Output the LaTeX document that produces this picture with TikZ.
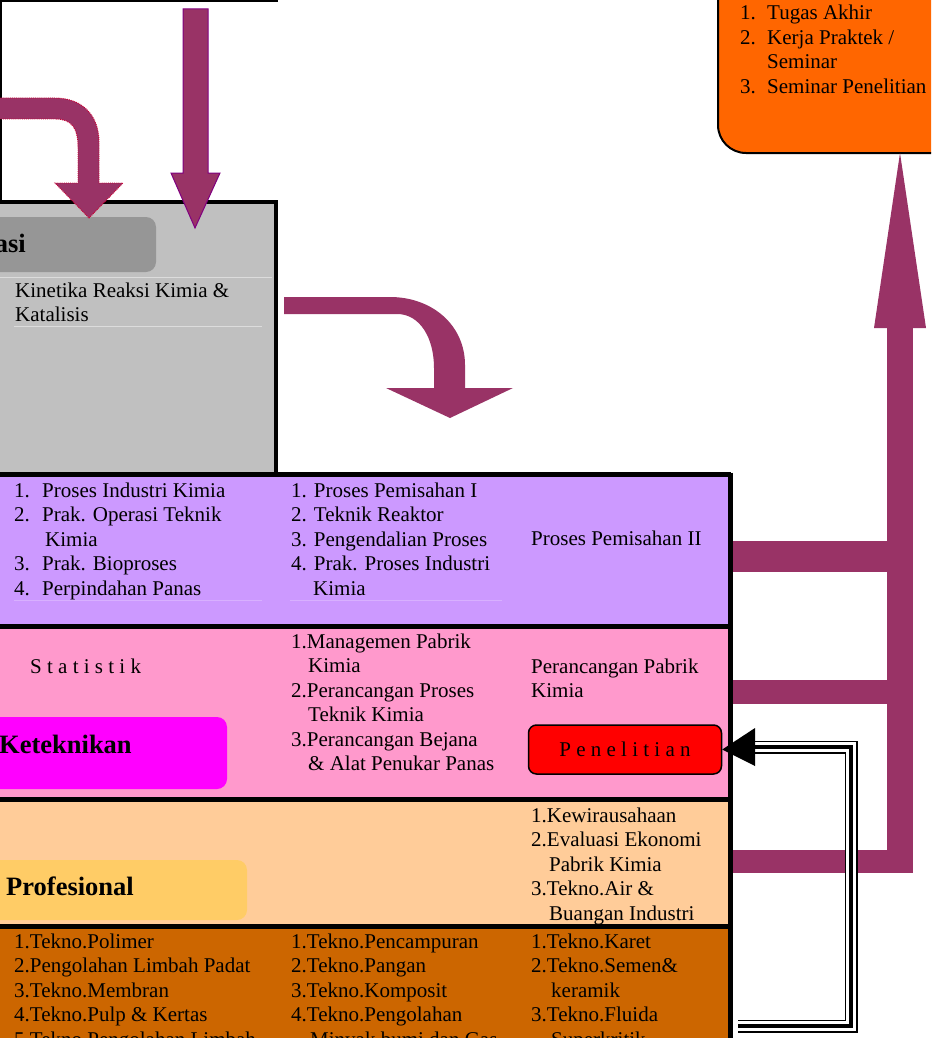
\documentclass[tikz,border=0pt]{standalone}
\usepackage{fontspec}
\setmainfont{Liberation Serif}
\definecolor{greybox}{HTML}{C0C0C0}
\definecolor{darkgrey}{HTML}{969696}
\definecolor{purp}{HTML}{CC99FF}
\definecolor{pinkband}{HTML}{FF99CC}
\definecolor{magbox}{HTML}{FF00FF}
\definecolor{peach}{HTML}{FFCC99}
\definecolor{gold}{HTML}{FFCC66}
\definecolor{brownband}{HTML}{CC6600}
\definecolor{orangebox}{HTML}{FF6600}
\definecolor{maroon}{HTML}{993366}
\definecolor{dotred}{HTML}{CC0033}
\definecolor{arrowline}{HTML}{800080}
\definecolor{sepgrey}{HTML}{DCDCDC}
\definecolor{seppurp}{HTML}{D8B0FF}
\newcommand\mylines[1]{\begin{tabular}[t]{@{}l@{}}#1\end{tabular}}
\newcommand\itm[3][28pt]{\makebox[#1][l]{#2}#3}
\begin{document}
\begin{tikzpicture}[x=1pt,y=-1pt,
  txt/.style={anchor=base west, inner sep=0pt, font=\fontsize{21}{24.5}\selectfont},
  head/.style={inner sep=0pt, font=\fontsize{26.5}{30}\selectfont\bfseries},
  border/.style={line width=4.5pt, black},
  arrowfill/.style={fill=maroon}]
\useasboundingbox (0,0) rectangle (931,1038);
\clip (0,0) rectangle (931,1038);

% top-left box outline
\draw[line width=2.5pt] (1.2,200) -- (1.2,1.2) -- (278,1.2);

% grey box
\fill[greybox] (0,201.5) rectangle (275.5,474.5);
\draw[line width=4pt] (0,201.5) -- (275.5,201.5) -- (275.5,474.5);
\fill[darkgrey, rounded corners=10pt] (-15,217) rectangle (156,272);
\node[head, anchor=base east] (asi) at (26,252) {asi};
\draw[sepgrey, line width=1pt] (0,277) -- (272,277);
\draw[sepgrey, line width=1pt] (14,326) -- (262,326);
\node[txt] (kin) at (15,297) {\mylines{Kinetika Reaksi Kimia \&\\Katalisis}};

% bands
\fill[purp] (0,474.5) rectangle (730.5,626.5);
\fill[pinkband] (0,626.5) rectangle (730.5,799.5);
\fill[peach] (0,799.5) rectangle (730.5,926.5);
\fill[brownband] (0,926.5) rectangle (730.5,1045);
\draw[seppurp, line width=1pt] (14,600) -- (262,600);
\draw[seppurp, line width=1pt] (290,600) -- (502,600);
\draw[border] (0,474.5) -- (730.5,474.5);
\draw[border] (0,626.5) -- (730.5,626.5);
\draw[border] (0,799.5) -- (730.5,799.5);
\draw[border] (0,926.5) -- (730.5,926.5);
\draw[line width=5pt] (730.5,472.5) -- (730.5,1045);

% purple band texts
\node[txt] (p1) at (14,497) {\mylines{\itm{1.}{Proses Industri Kimia}\\
  \itm{2.}{Prak. Operasi Teknik}\\
  \hspace*{31pt}Kimia\\
  \itm{3.}{Prak. Bioproses}\\
  \itm{4.}{Perpindahan Panas}}};
\node[txt] (p2) at (291,497) {\mylines{1. Proses Pemisahan I\\
  2. Teknik Reaktor\\
  3. Pengendalian Proses\\
  4. Prak. Proses Industri\\
  \hspace*{22pt}Kimia}};
\node[txt] (p3) at (531,545) {Proses Pemisahan II};

% pink band texts
\node[txt] (k1) at (30,673) {S t a t i s t i k};
\node[txt] (k2) at (291,648) {\mylines{1.Managemen Pabrik\\
  \hspace*{17pt}Kimia\\
  2.Perancangan Proses\\
  \hspace*{17pt}Teknik Kimia\\
  3.Perancangan Bejana\\
  \hspace*{17pt}\& Alat Penukar Panas}};
\node[txt] (k3) at (531,673) {\mylines{Perancangan Pabrik\\Kimia}};
\fill[magbox, rounded corners=10pt] (-15,717) rectangle (227,789);
\node[head, anchor=base west] (ket) at (-1,753) {Keteknikan};
\node[draw, fill=red, line width=1.5pt, rounded corners=8pt, minimum width=193pt,
  minimum height=49pt, inner sep=0pt, font=\fontsize{21}{24.5}\selectfont]
  (pen) at (625,749.5) {P e n e l i t i a n};

% peach band texts
\fill[gold, rounded corners=10pt] (-15,860) rectangle (247,920);
\node[head, anchor=base west] (prof) at (6,895) {Profesional};
\node[txt] (f3) at (531,822) {\mylines{1.Kewirausahaan\\
  2.Evaluasi Ekonomi\\
  \hspace*{18pt}Pabrik Kimia\\
  3.Tekno.Air \&\\
  \hspace*{18pt}Buangan Industri}};

% brown band texts
\node[txt] (b1) at (14,948) {\mylines{1.Tekno.Polimer\\
  2.Pengolahan Limbah Padat\\
  3.Tekno.Membran\\
  4.Tekno.Pulp \& Kertas\\
  5.Tekno.Pengolahan Limbah}};
\node[txt] (b2) at (291,948) {\mylines{1.Tekno.Pencampuran\\
  2.Tekno.Pangan\\
  3.Tekno.Komposit\\
  4.Tekno.Pengolahan\\
  \hspace*{19pt}Minyak bumi dan Gas}};
\node[txt] (b3) at (531,948) {\mylines{1.Tekno.Karet\\
  2.Tekno.Semen\&\\
  \hspace*{20pt}keramik\\
  3.Tekno.Fluida\\
  \hspace*{20pt}Superkritik}};

% orange box top right
\draw[fill=orangebox, line width=2pt, rounded corners=28pt] (718,-40) rectangle (990,153);
\node[txt] (ta) at (740,20) {\mylines{\itm[27pt]{1.}{Tugas Akhir}\\
  \itm[27pt]{2.}{Kerja Praktek /}\\
  \hspace*{27pt}Seminar\\
  \itm[27pt]{3.}{Seminar Penelitian}}};

% top-left curved arrow
\path[fill=maroon, draw=dotred, densely dotted, line width=0.9pt]
  (-5,98) -- (55,98) .. controls (82,98) and (99,115) .. (99,142)
  -- (99,183) -- (123,183) -- (89,218) -- (55,183) -- (78,183) -- (78,148)
  .. controls (78,128) and (72,119) .. (55,119) -- (-5,119) -- cycle;

% straight down arrow
\path[fill=maroon, draw=arrowline, line width=1pt]
  (183,9) -- (208,9) -- (208,173) -- (220,173) -- (195,228) -- (171,173)
  -- (183,173) -- cycle;

% middle curved arrow
\path[arrowfill]
  (284,297) -- (390,297) .. controls (432,297) and (465,325) .. (465,365)
  -- (465,388) -- (513,388) -- (450,418) -- (386,388) -- (434,388) -- (434,368)
  .. controls (434,338) and (420,314) .. (397,314) -- (284,314) -- cycle;

% big upward arrow with branches
\coordinate (tip) at (900,153);
\path[arrowfill] (887,328) rectangle (913,873);
\path[arrowfill] (874,328) -- (tip) -- (926,328) -- cycle;
\path[arrowfill] (733,541) rectangle (888,572);
\path[arrowfill] (733,680) rectangle (888,704);
\path[arrowfill] (733,850) rectangle (913,873);

% triple-line arrow to Penelitian
\coordinate (ps) at (738,1026);
\coordinate (pc1) at (851,1026);
\coordinate (pc2) at (851,747);
\coordinate (pb) at (755,747);
\foreach \w/\c in {13/black,9.5/white,3.5/black}
  \draw[line width=\w pt, \c] (ps) -- (pc1) -- (pc2) -- (pb);
\fill (755,728) -- (pen.east) -- (755,766) -- cycle;
\end{tikzpicture}
\end{document}
